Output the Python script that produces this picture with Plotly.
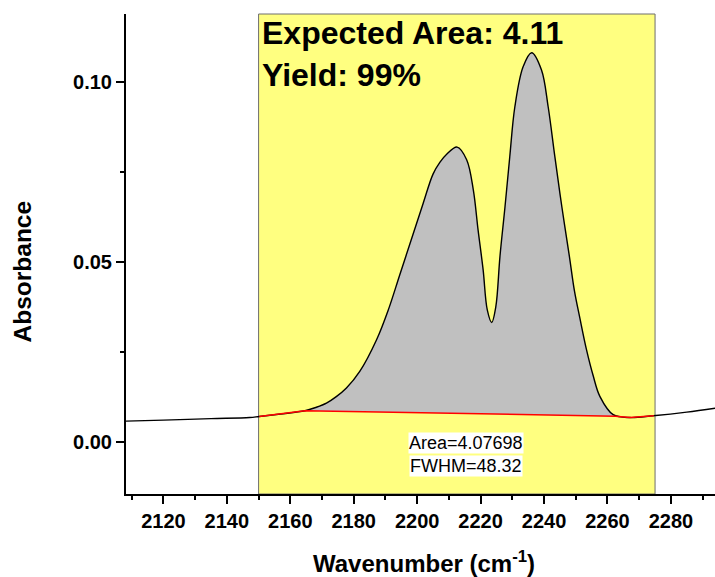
import plotly.graph_objects as go

# ---- data ----
wavenumber = [2108.2, 2120, 2135, 2147.2, 2150.2, 2157, 2164.6, 2168, 2171.4, 2174.5,
              2177.7, 2181.9, 2187.2, 2190.9, 2194.5, 2198.7, 2201.9, 2205.0, 2207.2, 2209.3,
              2212.6, 2215.6, 2217.7, 2219.2, 2220.8, 2222.1, 2223.5, 2224.8, 2226.1, 2227.7,
              2229.2, 2230.8, 2233.4, 2236.1, 2239.2, 2241.3, 2243.4, 2245.6, 2248.0, 2249.6,
              2251.3, 2253.4, 2255.5, 2257.6, 2261.8, 2267.1, 2274.4, 2285, 2294]
absorbance = [0.0059, 0.0062, 0.0066, 0.0069, 0.0072, 0.0079, 0.0088, 0.0097, 0.0109, 0.0127,
              0.0151, 0.0197, 0.0285, 0.0368, 0.0465, 0.0578, 0.0664, 0.0745, 0.0778, 0.0800,
              0.0820, 0.0785, 0.0701, 0.0590, 0.0479, 0.0368, 0.0333, 0.0377, 0.0516, 0.0655,
              0.0794, 0.0932, 0.1043, 0.1082, 0.1034, 0.0932, 0.0794, 0.0655, 0.0516, 0.0420,
              0.0345, 0.0257, 0.0185, 0.0128, 0.0077, 0.0069, 0.0074, 0.0084, 0.0095]

baseline_x = [2150.2, 2157, 2164.6, 2262.5, 2267.1, 2274.6]
baseline_y = [0.0072, 0.0079, 0.0088, 0.0073, 0.0069, 0.0074]

peak_start, peak_end = 2164.6, 2262.5
region = [2150, 2275]

x_ticks = [2120, 2140, 2160, 2180, 2200, 2220, 2240, 2260, 2280]
y_ticks = [0.00, 0.05, 0.10]

title_text = "Expected Area: 4.11<br>Yield: 99%"
area_text = "Area=4.07698"
fwhm_text = "FWHM=48.32"

# ---- figure ----
FONT = "Liberation Sans, Arial, sans-serif"

peak_x = [w for w in wavenumber if peak_start <= w <= peak_end]
peak_y = [a for w, a in zip(wavenumber, absorbance) if peak_start <= w <= peak_end]

fig = go.Figure()

# straight integration baseline (fill floor)
fig.add_trace(go.Scatter(x=[baseline_x[2], baseline_x[3]], y=[baseline_y[2], baseline_y[3]],
                         mode="lines", line=dict(width=0, color="rgba(0,0,0,0)"),
                         hoverinfo="skip", showlegend=False))
# gray integrated area
fig.add_trace(go.Scatter(x=peak_x, y=peak_y, mode="lines",
                         line=dict(width=0, shape="spline", smoothing=1.0),
                         fill="tonexty", fillcolor="#C0C0C0",
                         hoverinfo="skip", showlegend=False))
# spectrum
fig.add_trace(go.Scatter(x=wavenumber, y=absorbance, mode="lines",
                         line=dict(color="black", width=1.4, shape="spline", smoothing=1.0),
                         showlegend=False))
# red baseline
fig.add_trace(go.Scatter(x=baseline_x, y=baseline_y, mode="lines",
                         line=dict(color="#FF0000", width=1.5),
                         showlegend=False))

fig.add_shape(type="rect", xref="x", yref="paper", x0=region[0], x1=region[1], y0=0, y1=1,
              fillcolor="#FFFF80", line=dict(color="#6E6E6E", width=1), layer="below")

fig.add_annotation(text=title_text, xref="x", yref="paper", x=region[0], y=1,
                   xanchor="left", yanchor="top", align="left", showarrow=False,
                   xshift=2, yshift=0, borderpad=0,
                   font=dict(family=FONT, size=32, color="black", weight="bold"))

fig.add_annotation(text=area_text, xref="x", yref="y", x=2215.5, y=-0.0001,
                   xanchor="center", yanchor="middle", showarrow=False,
                   bgcolor="white", borderpad=0,
                   font=dict(family=FONT, size=18, color="black"))
fig.add_annotation(text=fwhm_text, xref="x", yref="y", x=2215.5, y=-0.0066,
                   xanchor="center", yanchor="middle", showarrow=False,
                   bgcolor="white", borderpad=0,
                   font=dict(family=FONT, size=18, color="black"))

fig.add_annotation(text="Absorbance", xref="paper", yref="paper", x=-0.1763, y=0.4639,
                   xanchor="center", yanchor="middle", textangle=-90, showarrow=False,
                   font=dict(family=FONT, size=24.5, color="black", weight="bold"))
fig.add_annotation(text="Wavenumber (cm<sup>-1</sup>)", xref="paper", yref="paper",
                   x=0.5057, y=-0.141, xanchor="center", yanchor="middle", showarrow=False,
                   font=dict(family=FONT, size=24, color="black", weight="bold"))

fig.update_layout(
    width=715, height=577,
    margin=dict(l=126.3, r=0, t=14, b=82.7),
    paper_bgcolor="white", plot_bgcolor="white",
    showlegend=False,
    xaxis=dict(range=[2108.2, 2293.9], tickvals=x_ticks, ticks="outside", ticklen=8,
               tickwidth=2, tickcolor="black", showline=True, linecolor="black", linewidth=2,
               showgrid=False, zeroline=False,
               minor=dict(dtick=10, tick0=2100, ticks="outside", ticklen=4, tickwidth=2,
                          tickcolor="black", showgrid=False),
               tickfont=dict(family=FONT, size=20, color="black", weight="bold")),
    yaxis=dict(range=[-0.01432, 0.11895], tickvals=y_ticks, tickformat=".2f",
               ticks="outside", ticklen=8, tickwidth=2, tickcolor="black",
               showline=True, linecolor="black", linewidth=2,
               showgrid=False, zeroline=False,
               minor=dict(dtick=0.025, tick0=0, ticks="outside", ticklen=4, tickwidth=2,
                          tickcolor="black", showgrid=False),
               tickfont=dict(family=FONT, size=20, color="black", weight="bold")),
)

fig.write_html("out.html")
